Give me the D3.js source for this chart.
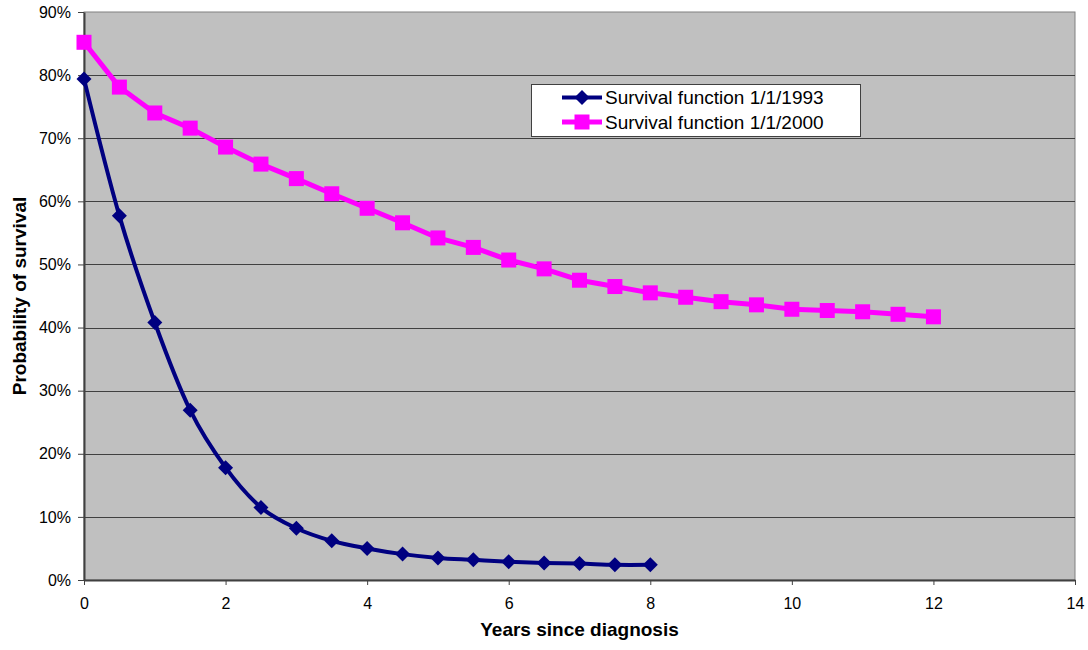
<!DOCTYPE html>
<html>
<head>
<meta charset="utf-8">
<script src="https://cdn.jsdelivr.net/npm/d3@7"></script>
<style>
  body { margin: 0; background: #fff; }
  svg { display: block; font-family: "Liberation Sans", Arial, sans-serif; }
</style>
</head>
<body>
<script>
// Survival probability (%) by years since diagnosis
const years1993 = [0, 0.5, 1, 1.5, 2, 2.5, 3, 3.5, 4, 4.5, 5, 5.5, 6, 6.5, 7, 7.5, 8];
const survival1993 = [79.4, 57.7, 40.8, 26.9, 17.8, 11.5, 8.2, 6.2, 5.0, 4.1, 3.5, 3.2, 2.9, 2.7, 2.6, 2.4, 2.4];

const years2000 = [0, 0.5, 1, 1.5, 2, 2.5, 3, 3.5, 4, 4.5, 5, 5.5, 6, 6.5, 7, 7.5, 8, 8.5, 9, 9.5, 10, 10.5, 11, 11.5, 12];
const survival2000 = [85.2, 78.1, 74.0, 71.6, 68.6, 65.9, 63.6, 61.2, 58.9, 56.6, 54.2, 52.7, 50.7, 49.3, 47.5, 46.5, 45.5, 44.8, 44.1, 43.6, 42.9, 42.7, 42.5, 42.1, 41.7];

const xTicks = [0, 2, 4, 6, 8, 10, 12, 14];
const yTicks = [0, 10, 20, 30, 40, 50, 60, 70, 80, 90];
const seriesNames = ["Survival function 1/1/1993", "Survival function 1/1/2000"];

const width = 1088;
const height = 650;
const margin = {top: 12, right: 13, bottom: 70, left: 84};

const svg = d3.select("body").append("svg")
    .attr("width", width)
    .attr("height", height);

const x = d3.scaleLinear().domain([0, 14]).range([margin.left, width - margin.right]);
const y = d3.scaleLinear().domain([0, 90]).range([height - margin.bottom, margin.top]);

// plot background
svg.append("rect")
    .attr("x", x(0)).attr("y", y(90))
    .attr("width", x(14) - x(0)).attr("height", y(0) - y(90))
    .attr("fill", "#c0c0c0")
    .attr("stroke", "#808080")
    .attr("stroke-width", 1);

// horizontal gridlines
svg.append("g")
  .selectAll("line")
  .data(yTicks.filter(d => d > 0 && d < 90))
  .join("line")
    .attr("x1", x(0)).attr("x2", x(14))
    .attr("y1", d => Math.round(y(d)) + 0.5).attr("y2", d => Math.round(y(d)) + 0.5)
    .attr("stroke", "#404040")
    .attr("stroke-width", 1);

// axes
const xAxis = svg.append("g")
    .attr("transform", `translate(0,${y(0)})`)
    .call(d3.axisBottom(x).tickValues(xTicks).tickSize(5).tickPadding(13).tickSizeOuter(0));
const yAxis = svg.append("g")
    .attr("transform", `translate(${x(0)},0)`)
    .call(d3.axisLeft(y).tickValues(yTicks).tickFormat(d => d + "%").tickSize(6).tickPadding(7).tickSizeOuter(0));

[xAxis, yAxis].forEach(g => {
  g.select(".domain").attr("stroke", "#404040").attr("stroke-width", 2);
  g.selectAll(".tick line").attr("stroke", "#404040");
  g.selectAll(".tick text")
      .attr("fill", "#000")
      .style("font-size", "16px")
      .style("font-family", "'Liberation Sans', Arial, sans-serif");
});

// axis titles
svg.append("text")
    .attr("x", (x(0) + x(14)) / 2)
    .attr("y", 636)
    .attr("text-anchor", "middle")
    .style("font-size", "19px")
    .style("font-weight", "bold")
    .text("Years since diagnosis");

svg.append("text")
    .attr("transform", `translate(26,${(y(0) + y(90)) / 2}) rotate(-90)`)
    .attr("text-anchor", "middle")
    .style("font-size", "19px")
    .style("font-weight", "bold")
    .text("Probability of survival");

// series
const blue = "#000080";
const pink = "#ff00ff";

const data1993 = years1993.map((d, i) => ({year: d, value: survival1993[i]}));
const data2000 = years2000.map((d, i) => ({year: d, value: survival2000[i]}));

const smoothLine = d3.line()
    .x(d => x(d.year)).y(d => y(d.value))
    .curve(d3.curveCardinal.tension(0));
const straightLine = d3.line()
    .x(d => x(d.year)).y(d => y(d.value));

svg.append("path")
    .datum(data2000)
    .attr("d", straightLine)
    .attr("fill", "none")
    .attr("stroke", pink)
    .attr("stroke-width", 5)
    .attr("stroke-linejoin", "round");

svg.append("g")
  .selectAll("rect")
  .data(data2000)
  .join("rect")
    .attr("x", d => x(d.year) - 7.5)
    .attr("y", d => y(d.value) - 7.5)
    .attr("width", 15).attr("height", 15)
    .attr("fill", pink);

svg.append("path")
    .datum(data1993)
    .attr("d", smoothLine)
    .attr("fill", "none")
    .attr("stroke", blue)
    .attr("stroke-width", 4);

const diamond = "M0,-7.5L7.5,0L0,7.5L-7.5,0Z";
svg.append("g")
  .selectAll("path")
  .data(data1993)
  .join("path")
    .attr("transform", d => `translate(${x(d.year)},${y(d.value)})`)
    .attr("d", diamond)
    .attr("fill", blue);

// legend
const legend = svg.append("g").attr("transform", "translate(531,84)");
legend.append("rect")
    .attr("x", 0.5).attr("y", 0.5)
    .attr("width", 329).attr("height", 52)
    .attr("fill", "#fff")
    .attr("stroke", "#404040")
    .attr("stroke-width", 1);

const colors = [blue, pink];
seriesNames.forEach((name, i) => {
  const row = legend.append("g").attr("transform", `translate(0,${13.5 + i * 24.5})`);
  row.append("line")
      .attr("x1", 31).attr("x2", 71)
      .attr("stroke", colors[i])
      .attr("stroke-width", i === 0 ? 4 : 5);
  if (i === 0) {
    row.append("path").attr("transform", "translate(51,0)").attr("d", diamond).attr("fill", blue);
  } else {
    row.append("rect").attr("x", 43.5).attr("y", -7.5).attr("width", 15).attr("height", 15).attr("fill", pink);
  }
  row.append("text")
      .attr("x", 74)
      .attr("dy", "0.35em")
      .style("font-size", "19px")
      .text(name);
});
</script>
</body>
</html>
